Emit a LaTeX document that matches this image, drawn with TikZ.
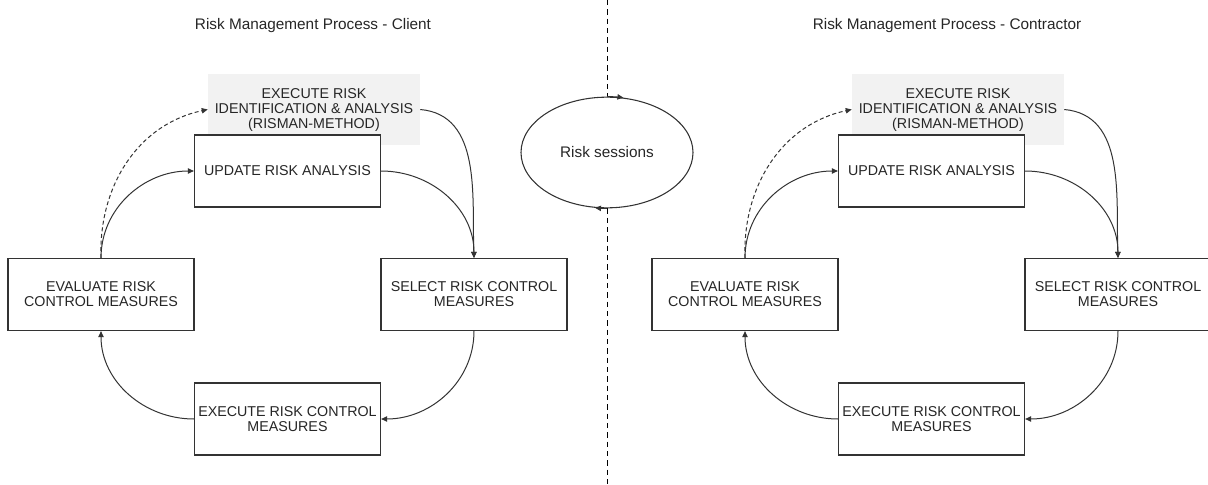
\documentclass[tikz,border=0pt]{standalone}
\usepackage{fontspec}
\setmainfont{Liberation Sans}
\usetikzlibrary{arrows.meta,shapes.geometric}
\definecolor{identGray}{HTML}{F2F2F2}
\definecolor{lineGray}{HTML}{333333}
\newcommand{\boxFont}{\fontsize{10.7}{11.25}\selectfont}
\newcommand{\titleFont}{\fontsize{11.5}{13}\selectfont}
\newcommand{\riskCycle}[2]{%%
  \begin{scope}[shift={(#1,0)},name prefix=#2]
  %% The RISMAN step sits behind the update step.
  \node[identStyle] (ident) at (314,-109.5)
    {EXECUTE RISK\\IDENTIFICATION \& ANALYSIS\\(RISMAN-METHOD)};
  \node[stepStyle] (update) at (287.5,-171) {UPDATE RISK ANALYSIS};
  \node[stepStyle] (select) at (474,-294.5) {SELECT RISK CONTROL\\MEASURES};
  \node[stepStyle] (execute) at (287.5,-419) {EXECUTE RISK CONTROL\\MEASURES};
  \node[stepStyle] (evaluate) at (101,-294.5) {EVALUATE RISK\\CONTROL MEASURES};
  %% The cycle itself.
  \draw[flowStyle] (update.east) to[out=0,in=90] (select.north);
  \draw[flowStyle] (ident.east) to[out=-5,in=92] (select.north);
  \draw[flowStyle] (select.south) to[out=-90,in=0] (execute.east);
  \draw[flowStyle] (execute.west) to[out=180,in=-90] (evaluate.south);
  \draw[flowStyle] (evaluate.north) to[out=90,in=180] (update.west);
  %% Back to a full RISMAN round.
  \draw[flowStyle,dashStyle] (evaluate.north) to[out=92,in=192] (ident.west);
  \end{scope}
}

\begin{document}
\begin{tikzpicture}[%%
  x=0.75pt,y=0.75pt,
  textStyle/.style={text=black!85,align=center},
  identStyle/.style={textStyle,fill=identGray,font=\boxFont,inner sep=0pt,
    minimum width=159pt,minimum height=53.25pt},
  stepStyle/.style={textStyle,draw=lineGray,line width=0.9pt,fill=white,
    font=\boxFont,inner sep=0pt,minimum width=139.5pt,minimum height=54pt},
  titleStyle/.style={textStyle,font=\titleFont},
  sessionStyle/.style={textStyle,ellipse,draw=lineGray,line width=0.8pt,
    font=\titleFont,inner sep=0pt,minimum width=129pt,minimum height=83pt},
  flowStyle/.style={draw=lineGray,line width=0.75pt,
    -{Triangle[length=4.5pt,width=4pt]}},
  dashStyle/.style={dash pattern=on 3pt off 2pt},
  dividerStyle/.style={draw=black,line width=0.75pt,dash pattern=on 4pt off 3pt}
]
\useasboundingbox (0,0) rectangle (1208,-485);
\clip (0,0) rectangle (1208,-485);
%%
%% Titles of both processes.
\node[titleStyle] (clientTitle) at (313,-26) {Risk Management Process - Client};
\node[titleStyle] (contrTitle) at (947,-26) {Risk Management Process - Contractor};
%%
%% The shared risk sessions on the divider.
\node[sessionStyle] (sess) at (607,-152.5) {Risk sessions};
\coordinate (divTop) at (607,0);
\coordinate (divBot) at (607,-485);
\draw[dividerStyle] (divTop) -- (sess.north);
\draw[dividerStyle] (sess.south) -- (divBot);
\draw[flowStyle] (sess.north) arc[start angle=90,end angle=79,x radius=86,y radius=55.3];
\draw[flowStyle] (sess.south) arc[start angle=270,end angle=262,x radius=86,y radius=55.3];
%%
%% Client and contractor cycles.
\riskCycle{0}{cl-}
\riskCycle{644}{co-}
\end{tikzpicture}
\end{document}
